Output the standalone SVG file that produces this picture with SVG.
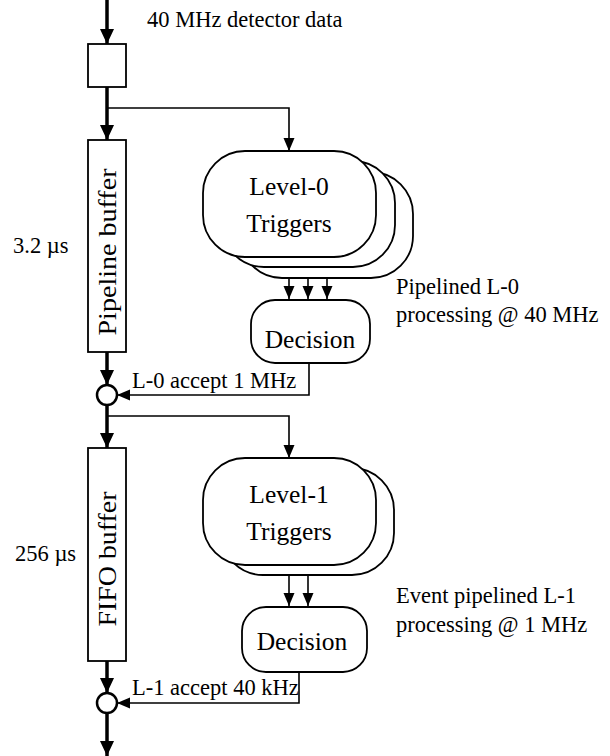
<svg xmlns="http://www.w3.org/2000/svg" width="610" height="756" viewBox="0 0 610 756" font-family="'Liberation Serif', 'Times New Roman', serif">
<style>
text{font-family:"Liberation Serif","Times New Roman",serif;fill:#000}
.lbl{font-size:22.5px}
.big{font-size:25.5px;text-anchor:middle}
.box{fill:#fff;stroke:#000;stroke-width:1.8}
.thin{fill:none;stroke:#000;stroke-width:1.6}
.thick{fill:none;stroke:#000;stroke-width:3.5}
</style>
<defs>
<marker id="ah" viewBox="0 0 13 12" refX="13" refY="6" markerWidth="13" markerHeight="12" markerUnits="userSpaceOnUse" orient="auto">
<path d="M0,0.5 L13,6 L0,11.5 z" fill="#000"/>
</marker>
<marker id="ahb" viewBox="0 0 15 15" refX="15" refY="7.5" markerWidth="15" markerHeight="15" markerUnits="userSpaceOnUse" orient="auto">
<path d="M0,0.5 L15,7.5 L0,14.5 z" fill="#000"/>
</marker>
</defs>

<g id="connectors">
<path class="thick" d="M107,0 V44" marker-end="url(#ahb)"/>
<path class="thick" d="M107,87 V140" marker-end="url(#ahb)"/>
<path class="thin" d="M107,108 H289 V151" marker-end="url(#ah)"/>
<path class="thin" d="M289,257 V299" marker-end="url(#ah)"/>
<path class="thin" d="M308,267 V299" marker-end="url(#ah)"/>
<path class="thin" d="M327,278 V299" marker-end="url(#ah)"/>
<path class="thick" d="M107,352 V385" marker-end="url(#ahb)"/>
<path class="thin" d="M309,363 V395 H117" marker-end="url(#ah)"/>
<path class="thick" d="M107,405 V448" marker-end="url(#ahb)"/>
<path class="thin" d="M107,416 H289 V458" marker-end="url(#ah)"/>
<path class="thin" d="M289,565 V606" marker-end="url(#ah)"/>
<path class="thin" d="M308,575 V606" marker-end="url(#ah)"/>
<path class="thick" d="M107,661 V693" marker-end="url(#ahb)"/>
<path class="thin" d="M299,672 V703 H117" marker-end="url(#ah)"/>
<path class="thick" d="M107,713 V756" marker-end="url(#ahb)"/>
</g>

<g id="input">
<text class="lbl" x="147" y="27">40 MHz detector data</text>
</g>

<g id="register">
<rect class="box" x="88" y="44" width="38" height="43"/>
</g>

<g id="pipeline-buffer">
<rect class="box" x="88" y="140" width="38" height="212"/>
<text transform="translate(116,252) rotate(-90)" style="font-size:25.5px;text-anchor:middle" textLength="167" lengthAdjust="spacingAndGlyphs">Pipeline buffer</text>
<text class="lbl" x="13" y="253">3.2 µs</text>
</g>

<g id="level0-triggers">
<rect class="box" x="240" y="172" width="173" height="106" rx="42" ry="42"/>
<rect class="box" x="222" y="161" width="173" height="106" rx="42" ry="42"/>
<rect class="box" x="203" y="151" width="173" height="106" rx="42" ry="42"/>
<text class="big" x="289" y="195">Level-0</text>
<text class="big" x="289" y="232">Triggers</text>
</g>

<g id="level0-note">
<text class="lbl" x="396" y="294">Pipelined L-0</text>
<text class="lbl" x="396" y="322">processing @ 40 MHz</text>
</g>

<g id="decision0">
<rect class="box" x="251" y="300" width="119" height="63" rx="24" ry="24"/>
<text class="big" x="310" y="348">Decision</text>
</g>

<g id="merge0">
<circle cx="107" cy="395" r="10" fill="#fff" stroke="#000" stroke-width="2.5"/>
<text class="lbl" x="132" y="388">L-0 accept 1 MHz</text>
</g>

<g id="fifo-buffer">
<rect class="box" x="88" y="448" width="38" height="213"/>
<text transform="translate(116,559) rotate(-90)" style="font-size:25.5px;text-anchor:middle" textLength="135" lengthAdjust="spacingAndGlyphs">FIFO buffer</text>
<text class="lbl" x="15" y="561">256 µs</text>
</g>

<g id="level1-triggers">
<rect class="box" x="221" y="468" width="173" height="107" rx="42" ry="42"/>
<rect class="box" x="203" y="458" width="173" height="107" rx="42" ry="42"/>
<text class="big" x="289" y="503">Level-1</text>
<text class="big" x="289" y="540">Triggers</text>
</g>

<g id="level1-note">
<text class="lbl" x="396" y="603">Event pipelined L-1</text>
<text class="lbl" x="396" y="632">processing @ 1 MHz</text>
</g>

<g id="decision1">
<rect class="box" x="242" y="607" width="125" height="65" rx="24" ry="24"/>
<text class="big" x="302" y="650">Decision</text>
</g>

<g id="merge1">
<circle cx="107" cy="703" r="10" fill="#fff" stroke="#000" stroke-width="2.5"/>
<text class="lbl" x="132" y="695">L-1 accept 40 kHz</text>
</g>
</svg>
